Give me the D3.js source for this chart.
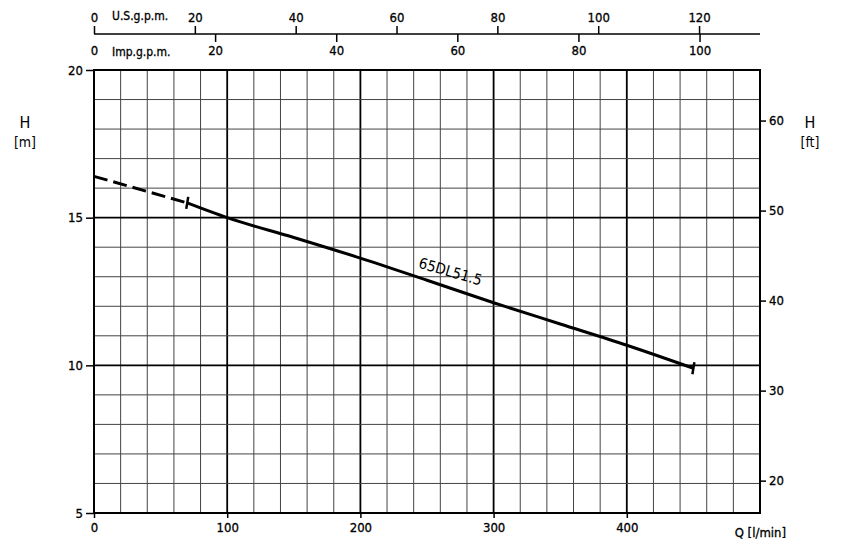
<!DOCTYPE html>
<html><head><meta charset="utf-8">
<script src="https://cdn.jsdelivr.net/npm/d3@7"></script>
<style>
body{margin:0;background:#fff;}
text{font-family:"DejaVu Sans Condensed","DejaVu Sans",sans-serif;fill:#000;}
</style></head>
<body><svg id="c" width="853" height="547"></svg>
<script>
const flowTicks = [0,100,200,300,400];
const headTicksM = [5,10,15,20];
const headTicksFt = [20,30,40,50,60];
const usTicks = [0,20,40,60,80,100,120];
const impTicks = [0,20,40,60,80,100];
const curveQ = [0,70,100,150,200,250,300,350,400,450];
const curveH = [16.4,15.5,15.0,14.33,13.63,12.88,12.12,11.4,10.68,9.9];
const dashedEnd = 1;
const curveName = "65DL51.5";

const svg = d3.select("#c");
const L=94,R=760,T=70,B=513;
const x = d3.scaleLinear().domain([0,500]).range([L,R]);
const y = d3.scaleLinear().domain([5,20]).range([B,T]);
const yft = d3.scaleLinear().domain([5*3.28084,20*3.28084]).range([B,T]);
const xus = d3.scaleLinear().domain([0,500/3.78541]).range([L,R]);
const ximp = d3.scaleLinear().domain([0,500/4.54609]).range([L,R]);

const g = svg.append("g");
d3.range(20,500,20).forEach(q=>{
  const major = q%100===0;
  g.append("line").attr("x1",x(q)).attr("x2",x(q)).attr("y1",T).attr("y2",B)
   .attr("stroke",major?"#000":"#444").attr("stroke-width",major?1.8:1);
});
d3.range(6,20,1).forEach(h=>{
  const major = h%5===0;
  g.append("line").attr("x1",L).attr("x2",R).attr("y1",y(h)).attr("y2",y(h))
   .attr("stroke",major?"#000":"#444").attr("stroke-width",major?1.8:1);
});
g.append("rect").attr("x",L).attr("y",T).attr("width",R-L).attr("height",B-T)
 .attr("fill","none").attr("stroke","#000").attr("stroke-width",2);

const axL = svg.append("g").attr("transform",`translate(${L},0)`)
  .call(d3.axisLeft(y).tickValues(headTicksM).tickSize(8).tickPadding(3).tickFormat(d3.format("d")));
const axR = svg.append("g").attr("transform",`translate(${R},0)`)
  .call(d3.axisRight(yft).tickValues(headTicksFt).tickSize(6).tickPadding(3).tickFormat(d3.format("d")));
const axB = svg.append("g").attr("transform",`translate(0,${B})`)
  .call(d3.axisBottom(x).tickValues(flowTicks).tickSize(5).tickPadding(5).tickFormat(d3.format("d")));
const axUS = svg.append("g").attr("transform",`translate(0,34)`)
  .call(d3.axisTop(xus).tickValues(usTicks).tickSize(8).tickPadding(4).tickFormat(d3.format("d")));
const axImp = svg.append("g").attr("transform",`translate(0,34)`)
  .call(d3.axisBottom(ximp).tickValues(impTicks).tickSize(8).tickPadding(4).tickFormat(d3.format("d")));
[axL,axR,axB,axUS,axImp].forEach(a=>{
  a.selectAll("path.domain").attr("stroke","#000").attr("stroke-width",1.5);
  a.selectAll(".tick line").attr("stroke","#000").attr("stroke-width",1.5);
  a.selectAll("text").attr("font-size",13).attr("font-family","DejaVu Sans Condensed, DejaVu Sans, sans-serif")
   .attr("stroke","#000").attr("stroke-width",0.3);
});
axL.select("path.domain").remove(); axR.select("path.domain").remove(); axB.select("path.domain").remove();
axImp.select("path.domain").remove();
axUS.select("path.domain").attr("d",`M${L},0H${R}`);
axUS.selectAll(".tick line").attr("y2",-8);
axImp.selectAll(".tick").filter(d=>d===0).select("line").remove();

const lab=(t,xx,yy,anchor,size,sw)=>svg.append("text").attr("x",xx).attr("y",yy).attr("text-anchor",anchor||"middle")
  .attr("font-size",size||13).attr("stroke","#000").attr("stroke-width",sw===undefined?0.3:sw).text(t);
lab("U.S.g.p.m.",112,20,"start",12);
lab("Imp.g.p.m.",112,56,"start",12);
lab("H",25,128,"middle",16,0);
lab("[m]",25,147,"middle",14,0);
lab("H",810,128,"middle",16,0);
lab("[ft]",810,147,"middle",14,0);
lab("Q [l/min]",786,537,"end",13);

const pts = curveQ.map((q,i)=>[q,curveH[i]]);
const line = d3.line().x(d=>x(d[0])).y(d=>y(d[1])).curve(d3.curveMonotoneX);
svg.append("path").attr("d",line(pts.slice(0,dashedEnd+1))).attr("fill","none")
 .attr("stroke","#000").attr("stroke-width",3).attr("stroke-dasharray","14,6");
svg.append("path").attr("d",line(pts.slice(dashedEnd))).attr("fill","none")
 .attr("stroke","#000").attr("stroke-width",3);
[dashedEnd, pts.length-1].forEach(i=>{
  const px=x(pts[i][0]), py=y(pts[i][1]);
  svg.append("line").attr("x1",px+1).attr("x2",px-1).attr("y1",py-6).attr("y2",py+6)
   .attr("stroke","#000").attr("stroke-width",2.5);
});
const lq=270, lh=12.6;
svg.append("text").attr("transform",`translate(${x(lq)-36},${y(lh)-21}) rotate(16)`)
 .attr("font-size",15).text(curveName);
</script></body></html>
